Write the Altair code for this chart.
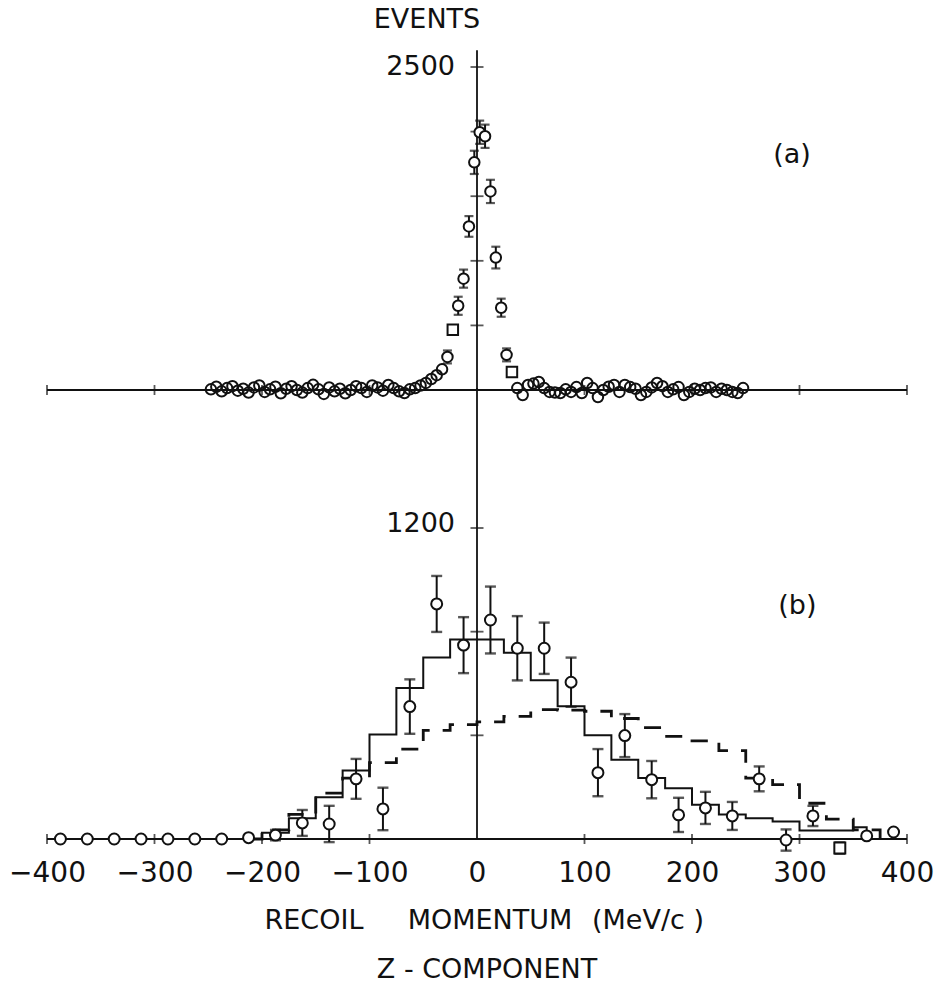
import altair as alt
import pandas as pd

# ---------------- panel (a): narrow distribution ----------------
a_x = [-247.5, -242.5, -237.5, -232.5, -227.5, -222.5, -217.5, -212.5, -207.5, -202.5,
       -197.5, -192.5, -187.5, -182.5, -177.5, -172.5, -167.5, -162.5, -157.5, -152.5,
       -147.5, -142.5, -137.5, -132.5, -127.5, -122.5, -117.5, -112.5, -107.5, -102.5,
       -97.5, -92.5, -87.5, -82.5, -77.5, -72.5, -67.5, -62.5, -57.5, -52.5,
       -47.5, -42.5, -37.5, -32.5, -27.5, -22.5, -17.5, -12.5, -7.5, -2.5,
       2.5, 7.5, 12.5, 17.5, 22.5, 27.5, 32.5, 37.5, 42.5, 47.5,
       52.5, 57.5, 62.5, 67.5, 72.5, 77.5, 82.5, 87.5, 92.5, 97.5,
       102.5, 107.5, 112.5, 117.5, 122.5, 127.5, 132.5, 137.5, 142.5, 147.5,
       152.5, 157.5, 162.5, 167.5, 172.5, 177.5, 182.5, 187.5, 192.5, 197.5,
       202.5, 207.5, 212.5, 217.5, 222.5, 227.5, 232.5, 237.5, 242.5, 247.5]
a_events = [5, 25, -10, 15, 30, -5, 10, -20, 20, 35,
            -15, 5, 25, -25, 10, 30, 0, -20, 15, 40,
            5, -30, 20, -10, 10, -25, 0, 30, 15, -15,
            35, 20, -5, 39, 15, -10, -23, 5, 15, 35,
            55, 85, 115, 160, 256, 466, 652, 862, 1266, 1762,
            1995, 1964, 1537, 1025, 637, 272, 140, 15, -39, 39,
            50, 62, 15, -15, -20, -23, 5, -15, 23, -23,
            54, 15, -54, 0, 25, 39, -15, 39, 23, 10,
            -39, -15, 20, 54, 30, -15, 5, 23, -39, -15,
            10, 0, 15, 20, -15, 10, 0, -15, -23, 15]
a_err = [0, 0, 0, 0, 0, 0, 0, 0, 0, 0,
         0, 0, 0, 0, 0, 0, 0, 0, 0, 0,
         0, 0, 0, 0, 0, 0, 0, 0, 0, 0,
         0, 0, 0, 0, 0, 0, 0, 0, 0, 0,
         0, 0, 0, 0, 50, 35, 70, 70, 80, 90,
         90, 90, 90, 84, 70, 50, 30, 0, 0, 0,
         0, 0, 0, 0, 0, 0, 0, 0, 0, 0,
         0, 0, 0, 0, 0, 0, 0, 0, 0, 0,
         0, 0, 0, 0, 0, 0, 0, 0, 0, 0,
         0, 0, 0, 0, 0, 0, 0, 0, 0, 0]
a_square_x = [-22.5, 32.5]

# ---------------- panel (b): broad distribution ----------------
b_x = [-387.5, -362.5, -337.5, -312.5, -287.5, -262.5, -237.5, -212.5, -187.5, -162.5,
       -137.5, -112.5, -87.5, -62.5, -37.5, -12.5, 12.5, 37.5, 62.5, 87.5,
       112.5, 137.5, 162.5, 187.5, 212.5, 237.5, 262.5, 287.5, 312.5, 337.5,
       362.5, 387.5]
b_events = [0, 0, 0, 0, 0, 0, 0, 5, 15, 62,
            58, 232, 116, 511, 907, 748, 845, 736, 736, 605,
            256, 399, 229, 93, 120, 89, 232, -4, 89, -35,
            12, 27]
b_err = [0, 0, 0, 0, 0, 0, 0, 0, 20, 50,
         70, 77, 82, 105, 108, 108, 129, 124, 99, 95,
         91, 83, 72, 66, 62, 54, 48, 41, 39, 22,
         0, 0]
b_square_x = [337.5]

# histogram (solid) : left bin edges and level of each bin
solid_edges = [-210, -200, -175, -150, -125, -100, -75, -50, -25, 0, 25, 50,
               75, 100, 125, 150, 175, 200, 225, 250, 275, 300, 325, 350, 362.5]
solid_levels = [0, 24, 80, 161, 264, 403, 583, 700, 770, 770, 719, 613,
                512, 400, 306, 235, 196, 132, 95, 80, 68, 33, 33, 45, 0]
# histogram (dashed)
dashed_edges = [-210, -200, -175, -150, -125, -100, -75, -50, -25, 0, 25, 50,
                75, 100, 125, 150, 175, 200, 225, 250, 275, 300, 325, 350, 375]
dashed_levels = [0, 35, 95, 177, 235, 295, 347, 419, 441, 452, 473, 499,
                 497, 493, 465, 430, 396, 379, 341, 235, 210, 138, 77, 35, 0]

x_label_values = [-400, -300, -200, -100, 0, 100, 200, 300, 400]
x_tick_values = [-400, -300, -200, -100, 100, 200, 300, 400]
a_ytick_values = [500, 1000, 1500, 2000, 2500]
b_ytick_values = [400, 800, 1200]

title_words = ["RECOIL", "MOMENTUM", "(MeV/c\u00a0)"]

# ---------------- tables ----------------
dfa = pd.DataFrame({"x": a_x, "y": a_events, "err": a_err})
dfa["lo"] = dfa["y"] - dfa["err"]
dfa["hi"] = dfa["y"] + dfa["err"]
dfa["shape"] = ["square" if v in a_square_x else "circle" for v in dfa["x"]]
dfa_flat = dfa[dfa["err"] == 0]
dfa_peak = dfa[dfa["err"] > 0]

dfb = pd.DataFrame({"x": b_x, "y": b_events, "err": b_err})
dfb["lo"] = dfb["y"] - dfb["err"]
dfb["hi"] = dfb["y"] + dfb["err"]
dfb["shape"] = ["square" if v in b_square_x else "circle" for v in dfb["x"]]
dfb_err = dfb[dfb["err"] > 0]

dsolid = pd.DataFrame({"x": solid_edges, "y": solid_levels})
ddash = pd.DataFrame({"x": dashed_edges, "y": dashed_levels})
dxt = pd.DataFrame({"x": x_tick_values})
dyta = pd.DataFrame({"y": a_ytick_values})
dytb = pd.DataFrame({"y": b_ytick_values})

FONT = "DejaVu Sans"
FW = 400
INK = "#111111"
W, H = 860, 799

xs = alt.Scale(domain=[-400, 400], nice=False, zero=False)
ya = alt.Scale(domain=[-3475, 2709], nice=False, zero=False)
yb = alt.Scale(domain=[0, 3083], nice=False, zero=False)
xaxis = alt.Axis(values=x_label_values, domain=False, ticks=False, grid=False,
                 tickSize=0, labelFont=FONT, labelFontSize=28, labelFontWeight=FW,
                 labelColor=INK, labelPadding=20, labelFlush=False, title=None)


def X(field=None, datum=None):
    if datum is not None:
        return alt.X(datum=datum, type="quantitative", scale=xs, axis=xaxis)
    return alt.X(field, type="quantitative", scale=xs, axis=xaxis)


def Y(scale, field=None, datum=None):
    if datum is not None:
        return alt.Y(datum=datum, type="quantitative", scale=scale, axis=None)
    return alt.Y(field, type="quantitative", scale=scale, axis=None)


def Y2(datum=None, field=None):
    if datum is not None:
        return alt.Y2(datum=datum)
    return alt.Y2(field)


def label(text, size=27, align="center", dx=0, dy=0):
    return dict(text=text, align=align, baseline="middle", dx=dx, dy=dy,
                font=FONT, fontSize=size, fontWeight=FW, color=INK)


# ---------------- layer A ----------------
a_axis_h = alt.Chart(dfa.head(1)).mark_rule(color=INK, strokeWidth=1.8).encode(
    x=X(datum=-400), x2=alt.X2(datum=400), y=Y(ya, datum=0))
a_axis_v = alt.Chart(dfa.head(1)).mark_rule(color=INK, strokeWidth=1.8).encode(
    x=X(datum=0), y=Y(ya, datum=0), y2=Y2(datum=2630))
a_xt = alt.Chart(dxt).mark_tick(orient="vertical", size=10, thickness=1.8, color=INK).encode(
    x=X("x"), y=Y(ya, datum=0))
a_yt = alt.Chart(dyta).mark_tick(orient="horizontal", size=13, thickness=1.8, color=INK).encode(
    x=X(datum=0), y=Y(ya, "y"))
a_flat = alt.Chart(dfa_flat).mark_point(filled=False, size=110, strokeWidth=2,
                                         color=INK, opacity=1).encode(
    x=X("x"), y=Y(ya, "y"), shape=alt.Shape("shape:N", scale=None))
a_bar = alt.Chart(dfa_peak).mark_rule(color=INK, strokeWidth=2).encode(
    x=X("x"), y=Y(ya, "lo"), y2=Y2(field="hi"))
a_cap_lo = alt.Chart(dfa_peak).mark_tick(orient="horizontal", size=9, thickness=2.2, color=INK).encode(
    x=X("x"), y=Y(ya, "lo"))
a_cap_hi = alt.Chart(dfa_peak).mark_tick(orient="horizontal", size=9, thickness=2.2, color=INK).encode(
    x=X("x"), y=Y(ya, "hi"))
a_peak = alt.Chart(dfa_peak).mark_point(fill="white", stroke=INK, strokeWidth=2,
                                         size=110, opacity=1, fillOpacity=1).encode(
    x=X("x"), y=Y(ya, "y"), shape=alt.Shape("shape:N", scale=None))
a_lab = alt.Chart(dfa.head(1)).mark_text(**label("2500", align="right", dx=-22)).encode(
    x=X(datum=0), y=Y(ya, datum=2500))
a_tag = alt.Chart(dfa.head(1)).mark_text(**label("(a)", size=27)).encode(
    x=X(datum=293), y=Y(ya, datum=1819))

layer_a = alt.layer(a_axis_h, a_axis_v, a_xt, a_yt, a_flat, a_bar, a_cap_lo, a_cap_hi,
                    a_peak, a_lab, a_tag)

# ---------------- layer B ----------------
b_axis_h = alt.Chart(dfb.head(1)).mark_rule(color=INK, strokeWidth=1.8).encode(
    x=X(datum=-400), x2=alt.X2(datum=400), y=Y(yb, datum=0))
b_axis_v = alt.Chart(dfb.head(1)).mark_rule(color=INK, strokeWidth=1.8).encode(
    x=X(datum=0), y=Y(yb, datum=0), y2=Y2(datum=1740))
b_xt = alt.Chart(dxt).mark_tick(orient="vertical", size=10, thickness=1.8, color=INK).encode(
    x=X("x"), y=Y(yb, datum=0))
b_yt = alt.Chart(dytb).mark_tick(orient="horizontal", size=13, thickness=1.8, color=INK).encode(
    x=X(datum=0), y=Y(yb, "y"))
b_solid = alt.Chart(dsolid).mark_line(interpolate="step-after", color=INK, strokeWidth=2).encode(
    x=X("x"), y=Y(yb, "y"))
b_dash = alt.Chart(ddash).mark_line(interpolate="step-after", color=INK, strokeWidth=2.8,
                                    strokeDash=[17, 13]).encode(
    x=X("x"), y=Y(yb, "y"))
b_bar = alt.Chart(dfb_err).mark_rule(color=INK, strokeWidth=2).encode(
    x=X("x"), y=Y(yb, "lo"), y2=Y2(field="hi"))
b_cap_lo = alt.Chart(dfb_err).mark_tick(orient="horizontal", size=11, thickness=2.4, color=INK).encode(
    x=X("x"), y=Y(yb, "lo"))
b_cap_hi = alt.Chart(dfb_err).mark_tick(orient="horizontal", size=11, thickness=2.4, color=INK).encode(
    x=X("x"), y=Y(yb, "hi"))
b_pts = alt.Chart(dfb).mark_point(fill="white", stroke=INK, strokeWidth=2,
                                   size=120, opacity=1, fillOpacity=1).encode(
    x=X("x"), y=Y(yb, "y"), shape=alt.Shape("shape:N", scale=None))
b_lab = alt.Chart(dfb.head(1)).mark_text(**label("1200", align="right", dx=-22, dy=-4)).encode(
    x=X(datum=0), y=Y(yb, datum=1200))
b_tag = alt.Chart(dfb.head(1)).mark_text(**label("(b)", size=27)).encode(
    x=X(datum=298), y=Y(yb, datum=899))

txt_events = alt.Chart(dfb.head(1)).mark_text(**label("EVENTS", size=27)).encode(
    x=alt.value(380), y=alt.value(-20))
txt_w1 = alt.Chart(dfb.head(1)).mark_text(**label(title_words[0], size=27)).encode(
    x=alt.value(267), y=alt.value(881))
txt_w2 = alt.Chart(dfb.head(1)).mark_text(**label(title_words[1], size=27)).encode(
    x=alt.value(443), y=alt.value(881))
txt_w3 = alt.Chart(dfb.head(1)).mark_text(**label(title_words[2], size=27)).encode(
    x=alt.value(601), y=alt.value(881))
txt_title2 = alt.Chart(dfb.head(1)).mark_text(**label("Z - COMPONENT", size=27)).encode(
    x=alt.value(440), y=alt.value(930))

layer_b = alt.layer(b_axis_h, b_axis_v, b_xt, b_yt, b_dash, b_solid, b_bar, b_cap_lo, b_cap_hi,
                    b_pts, b_lab, b_tag, txt_events, txt_w1, txt_w2, txt_w3, txt_title2)

chart = alt.layer(layer_a, layer_b).resolve_scale(y="independent").properties(
    width=W, height=H,
    autosize=alt.AutoSizeParams(type="none"),
    padding={"left": 47, "top": 40, "right": 28, "bottom": 157},
    background="white",
).configure_view(stroke=None)

chart.save("out.html", embed_options={"renderer": "svg", "actions": False})
